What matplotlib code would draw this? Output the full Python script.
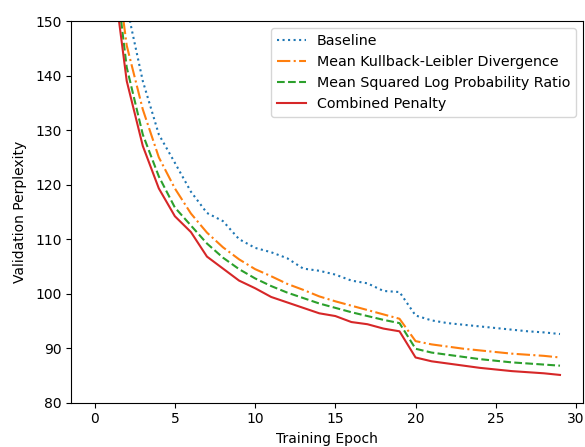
import matplotlib
matplotlib.use("Agg")
import matplotlib.pyplot as plt

epochs = list(range(30))

baseline = [260, 180, 152.7, 139.0, 129.2, 124.0, 118.7, 114.8, 113.3, 110.0,
            108.4, 107.6, 106.5, 104.6, 104.2, 103.5, 102.4, 101.9, 100.5, 100.3,
            96.0, 95.1, 94.6, 94.3, 94.0, 93.7, 93.4, 93.1, 92.9, 92.6]
mean_kl = [240, 168.0, 145.5, 133.8, 125.0, 119.3, 114.7, 111.2, 108.5, 106.3,
           104.5, 103.2, 101.8, 100.7, 99.5, 98.6, 97.8, 97.0, 96.2, 95.4,
           91.3, 90.7, 90.3, 89.9, 89.6, 89.3, 89.0, 88.8, 88.6, 88.3]
mean_sq_lpr = [235, 166.0, 141.5, 129.2, 121.5, 115.8, 112.5, 109.2, 106.6, 104.5,
               102.8, 101.4, 100.2, 99.2, 98.2, 97.4, 96.6, 95.9, 95.2, 94.6,
               89.9, 89.2, 88.8, 88.4, 88.0, 87.7, 87.4, 87.2, 87.0, 86.8]
combined = [230, 161.9, 139.0, 127.1, 119.3, 114.2, 111.3, 106.8, 104.6, 102.4,
            101.0, 99.4, 98.4, 97.4, 96.4, 95.9, 94.8, 94.4, 93.6, 93.1,
            88.3, 87.6, 87.2, 86.8, 86.4, 86.1, 85.8, 85.6, 85.4, 85.1]

labels = ["Baseline", "Mean Kullback-Leibler Divergence",
          "Mean Squared Log Probability Ratio", "Combined Penalty"]

fig = plt.figure(figsize=(5.85, 4.47), dpi=100)
ax = fig.add_axes([0.122, 0.099, 0.875, 0.854])

ax.plot(epochs, baseline, linestyle=":", color="#1f77b4", label=labels[0])
ax.plot(epochs, mean_kl, linestyle="-.", color="#ff7f0e", label=labels[1])
ax.plot(epochs, mean_sq_lpr, linestyle="--", color="#2ca02c", label=labels[2])
ax.plot(epochs, combined, linestyle="-", color="#d62728", label=labels[3])

ax.set_ylim(80, 150)
ax.set_xlabel("Training Epoch")
ax.set_ylabel("Validation Perplexity", labelpad=6)
ax.legend(loc="upper right", fontsize=10.3)

fig.savefig("out.png", dpi=100)
